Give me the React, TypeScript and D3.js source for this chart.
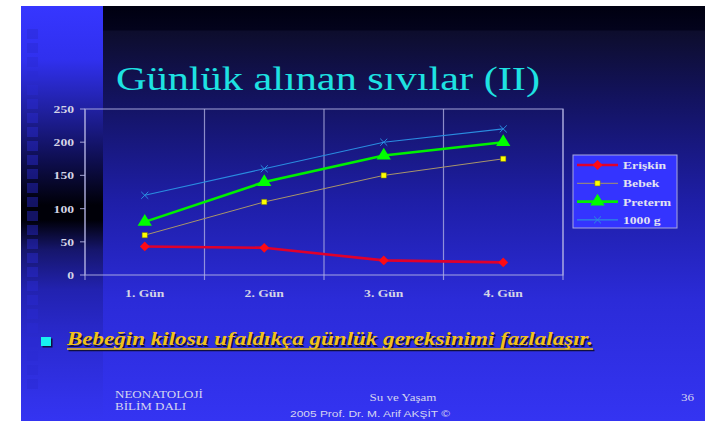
import * as d3 from 'd3';

// slide is stretched horizontally, so text is widened the same way
const SX = 1.24;

const categories = ['1. Gün', '2. Gün', '3. Gün', '4. Gün'];
const eriskin = [43, 41, 22, 19];
const bebek = [60, 110, 150, 175];
const preterm = [80, 140, 180, 200];
const g1000 = [120, 160, 200, 220];
const yTicks = [0, 50, 100, 150, 200, 250];

const series = [
  { name: 'Erişkin', values: eriskin, line: '#e0002c', width: 2.6, marker: 'diamond', fill: '#ff0a14' },
  { name: 'Bebek', values: bebek, line: '#a8956a', width: 1, marker: 'square', fill: '#ffff00' },
  { name: 'Preterm', values: preterm, line: '#00f000', width: 2.6, marker: 'triangle', fill: '#00ff00' },
  { name: '1000 g', values: g1000, line: '#2a8ce0', width: 1.1, marker: 'x', fill: '#2a8ce0' },
];

const plot = { left: 85, right: 563, top: 109, bottom: 275 };

const x = d3.scaleBand<string>().domain(categories).range([plot.left, plot.right]);
const y = d3.scaleLinear().domain([0, 250]).range([plot.bottom, plot.top]);

const symbols: Record<string, string> = {
  diamond: d3.symbol(d3.symbolSquare, 48)()!,
  square: d3.symbol(d3.symbolSquare, 28)()!,
  triangle: d3.symbol(d3.symbolTriangle, 80)()!,
  x: d3.symbol(d3.symbolX, 34)()!,
};

function Marker({ kind, cx, cy, fill }: { kind: string; cx: number; cy: number; fill: string }) {
  if (kind === 'diamond')
    return <path d={symbols.diamond} transform={`translate(${cx},${cy}) rotate(45)`} fill={fill} />;
  if (kind === 'square')
    return <path d={symbols.square} transform={`translate(${cx},${cy})`} fill={fill} stroke="#707000" strokeWidth={0.5} />;
  if (kind === 'triangle')
    return <path d={symbols.triangle} transform={`translate(${cx},${cy}) scale(1.05,1)`} fill={fill} />;
  return <path d={symbols.x} transform={`translate(${cx},${cy})`} fill="none" stroke={fill} strokeWidth={1} />;
}

function T(props: {
  x: number;
  y: number;
  size: number;
  children: any;
  anchor?: string;
  fill?: string;
  weight?: string;
  italic?: boolean;
  family?: string;
  w?: number;
}) {
  const { x: tx, y: ty, size, anchor = 'start', fill = '#dcdcf0', weight = 'normal', italic, family, w } = props;
  return (
    <text
      transform={`translate(${tx},${ty}) scale(${SX},1)`}
      textAnchor={anchor as any}
      fontSize={size}
      fill={fill}
      fontWeight={weight}
      fontStyle={italic ? 'italic' : 'normal'}
      fontFamily={family || '"Liberation Serif", "Times New Roman", serif'}
      textLength={w ? w / SX : undefined}
      lengthAdjust={w ? 'spacingAndGlyphs' : undefined}
    >
      {props.children}
    </text>
  );
}

export default function App() {
  const line = d3
    .line<number>()
    .x((_, i) => x(categories[i])! + x.bandwidth() / 2)
    .y((d) => y(d));

  const squares = d3.range(29, 385, 14);
  const bounds = [...categories.map((c) => x(c)!), plot.right];

  return (
    <svg width={705} height={421} style={{ position: 'absolute', left: 0, top: 0 }}>
      <defs>
        <linearGradient id="bg" gradientUnits="userSpaceOnUse" x1={0} y1={6} x2={0} y2={421}>
          <stop offset={0} stopColor="#000010" />
          <stop offset={24 / 415} stopColor="#03031c" />
          <stop offset={25 / 415} stopColor="#0d0d2c" />
          <stop offset={94 / 415} stopColor="#131360" />
          <stop offset={194 / 415} stopColor="#1e1ea6" />
          <stop offset={294 / 415} stopColor="#2b2bd8" />
          <stop offset={1} stopColor="#3434f2" />
        </linearGradient>
        <linearGradient id="stripe" gradientUnits="userSpaceOnUse" x1={0} y1={6} x2={0} y2={421}>
          <stop offset={0} stopColor="#3636ff" />
          <stop offset={54 / 415} stopColor="#3030ee" />
          <stop offset={104 / 415} stopColor="#2020a0" />
          <stop offset={154 / 415} stopColor="#0e0e50" />
          <stop offset={199 / 415} stopColor="#000008" />
          <stop offset={214 / 415} stopColor="#000008" />
          <stop offset={244 / 415} stopColor="#16166c" />
          <stop offset={284 / 415} stopColor="#2222b0" />
          <stop offset={334 / 415} stopColor="#2a2ad0" />
          <stop offset={394 / 415} stopColor="#3232ea" />
          <stop offset={1} stopColor="#3434f2" />
        </linearGradient>
      </defs>

      {/* slide background */}
      <rect x={0} y={0} width={705} height={421} fill="#ffffff" />
      <rect x={21} y={6} width={684} height={415} fill="url(#bg)" />
      <rect x={21} y={6} width={82} height={415} fill="url(#stripe)" />
      {squares.map((sy) => (
        <rect key={sy} x={27} y={sy} width={11} height={10} fill="#2a2ad2" opacity={0.45} />
      ))}

      {/* title */}
      <T x={116} y={90} size={34} fill="#1ee2e2" w={424}>
        Günlük alınan sıvılar (II)
      </T>

      {/* grid and axes */}
      <g stroke="#b4b4e4" strokeOpacity={0.75} strokeWidth={1.2} fill="none">
        <rect x={plot.left} y={plot.top} width={plot.right - plot.left} height={plot.bottom - plot.top} />
        {bounds.map((bx) => (
          <line key={bx} x1={bx} x2={bx} y1={plot.top} y2={plot.bottom + 5} />
        ))}
        {yTicks.map((t) => (
          <line key={t} x1={plot.left - 5} x2={plot.left} y1={y(t)} y2={y(t)} />
        ))}
      </g>
      {yTicks.map((t) => (
        <T key={t} x={74} y={y(t) + 4} size={11} weight="bold" anchor="end" fill="#d4d4e6">
          {t}
        </T>
      ))}
      {categories.map((c) => (
        <T key={c} x={x(c)! + x.bandwidth() / 2} y={297} size={11} weight="bold" anchor="middle" fill="#d4d4e6">
          {c}
        </T>
      ))}

      {/* series */}
      {series.map((s) => (
        <g key={s.name}>
          <path d={line(s.values)!} fill="none" stroke={s.line} strokeWidth={s.width} />
          {s.values.map((v, i) => (
            <Marker key={i} kind={s.marker} cx={x(categories[i])! + x.bandwidth() / 2} cy={y(v)} fill={s.fill} />
          ))}
        </g>
      ))}

      {/* legend */}
      <rect x={573} y={155} width={104} height={73} fill="#3434ff" stroke="#a8a8e0" strokeWidth={1} />
      {series.map((s, i) => {
        const ly = 165 + i * 18.3;
        return (
          <g key={s.name}>
            <line x1={577} x2={618} y1={ly} y2={ly} stroke={s.line} strokeWidth={s.width} />
            <Marker kind={s.marker} cx={597.5} cy={ly} fill={s.fill} />
            <T x={623} y={ly + 4} size={11} weight="bold" fill="#e2e2f2">
              {s.name}
            </T>
          </g>
        );
      })}

      {/* bullet */}
      <rect x={42.5} y={338.5} width={10} height={9} fill="#101040" />
      <rect x={41} y={337} width={10} height={9} fill="#18f0f0" />
      <T x={68.5} y={346.5} size={18} weight="bold" italic fill="#101040" w={526}>
        Bebeğin kilosu ufaldıkça günlük gereksinimi fazlalaşır.
      </T>
      <line x1={68.5} x2={594.5} y1={350.5} y2={350.5} stroke="#101040" strokeWidth={1.4} />
      <T x={67} y={345} size={18} weight="bold" italic fill="#f2c21a" w={526}>
        Bebeğin kilosu ufaldıkça günlük gereksinimi fazlalaşır.
      </T>
      <line x1={67} x2={593} y1={349} y2={349} stroke="#f2c21a" strokeWidth={1.4} />

      {/* footer */}
      <T x={115} y={398} size={10.5} fill="#d4d4f0">
        NEONATOLOJİ
      </T>
      <T x={115} y={410} size={10.5} fill="#d4d4f0">
        BİLİM  DALI
      </T>
      <T x={403} y={401} size={10.5} anchor="middle" fill="#d4d4f0">
        Su ve Yaşam
      </T>
      <T x={290} y={417} size={9.5} fill="#d4d4f0" family='"Liberation Sans", Arial, sans-serif' w={160}>
        2005  Prof.  Dr.  M.  Arif AKŞİT ©
      </T>
      <T x={681} y={401} size={10.5} fill="#d4d4f0">
        36
      </T>
    </svg>
  );
}
